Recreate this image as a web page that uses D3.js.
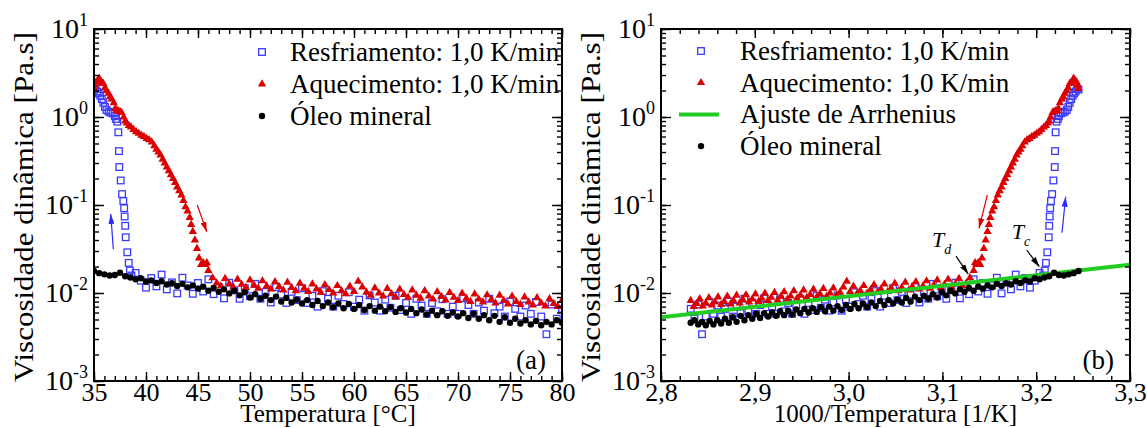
<!DOCTYPE html>
<html>
<head>
<meta charset="utf-8">
<script src="https://cdn.jsdelivr.net/npm/d3@7"></script>
<style>
body { margin: 0; background: #fff; }
</style>
</head>
<body>
<div id="chart"></div>
<script>
// Resfriamento (cooling) 1,0 K/min : temperature [°C] and viscosity [Pa.s]
var tempCool = [35.0, 35.15, 35.3, 35.45, 35.6, 35.75, 35.9, 36.05, 36.2, 36.4, 36.6, 36.8, 37.0, 37.12,
    37.24, 37.34, 37.4, 37.43, 37.57, 37.7, 37.82, 37.9, 37.95, 38.0, 38.05, 38.2, 38.34, 38.46, 38.6,
    39.0, 39.5, 40.0, 40.5, 41.0, 41.5, 42.0, 42.5, 43.0, 43.5, 44.0, 44.5, 45.0, 45.5, 46.0, 46.5,
    47.0, 47.5, 48.0, 48.5, 49.0, 49.5, 50.0, 50.5, 51.0, 51.5, 52.0, 52.5, 53.0, 53.5, 54.0, 54.5,
    55.0, 55.5, 56.0, 56.5, 57.0, 57.5, 58.0, 58.5, 59.0, 59.5, 60.0, 60.5, 61.0, 61.5, 62.0, 62.5,
    63.0, 63.5, 64.0, 64.5, 65.0, 65.5, 66.0, 66.5, 67.0, 67.5, 68.0, 68.5, 69.0, 69.5, 70.0, 70.5,
    71.0, 71.5, 72.0, 72.5, 73.0, 73.5, 74.0, 74.5, 75.0, 75.5, 76.0, 76.5, 77.0, 77.5, 78.0, 78.5,
    79.0, 79.5, 80.0];
var viscCool = [2.05, 2.1, 1.95, 1.85, 1.75, 1.6, 1.45, 1.3, 1.2, 1.15, 1.12, 1.1, 1.02, 0.95,
    0.885, 0.67, 0.41, 0.27, 0.19, 0.133, 0.111, 0.092, 0.074, 0.058, 0.043, 0.029, 0.022, 0.018, 0.0158,
    0.0169, 0.0138, 0.0115, 0.0148, 0.0119, 0.0162, 0.0110, 0.0132, 0.0099, 0.0149, 0.0122, 0.0098, 0.0130, 0.0104, 0.0143, 0.0097,
    0.0116, 0.0087, 0.0131, 0.0107, 0.0086, 0.0114, 0.0092, 0.0127, 0.0086, 0.0103, 0.0078, 0.0117, 0.0096, 0.0077, 0.0103, 0.0083,
    0.0113, 0.0077, 0.0093, 0.0070, 0.0105, 0.0086, 0.0070, 0.0093, 0.0075, 0.0102, 0.0070, 0.0084, 0.0063, 0.0094, 0.0078, 0.0063,
    0.0084, 0.0068, 0.0093, 0.0064, 0.0077, 0.0058, 0.0086, 0.0072, 0.0058, 0.0077, 0.0062, 0.0085, 0.0058, 0.0070, 0.0058, 0.0087,
    0.0073, 0.0058, 0.0078, 0.0063, 0.0086, 0.0059, 0.0070, 0.0054, 0.0080, 0.0066, 0.0054, 0.0072, 0.0058, 0.0079, 0.0054, 0.0034,
    0.0074, 0.0051, 0.0066];

// Aquecimento (heating) 1,0 K/min
var tempHeat = [35.0, 35.1, 35.2, 35.35, 35.5, 35.6, 35.75, 35.9, 36.05, 36.2, 36.4, 36.55, 36.7, 36.9,
    37.05, 37.2, 37.35, 37.5, 37.65, 37.85, 38.0, 38.15, 38.35, 38.55, 38.8, 39.05, 39.3, 39.55, 39.8,
    40.05, 40.3, 40.55, 40.8, 41.0, 41.2, 41.4, 41.6, 41.8, 42.0, 42.2, 42.4, 42.6, 42.8, 43.0, 43.2,
    43.4, 43.6, 43.8, 44.0, 44.2, 44.35, 44.5, 44.7, 44.9, 45.1, 45.3, 45.5, 45.7, 45.85, 46.0,
    46.4, 46.8, 47.2, 47.6, 48.0, 48.4, 48.8, 49.2, 49.6, 50.0, 50.4, 50.8, 51.2, 51.6, 52.0, 52.4,
    52.8, 53.2, 53.6, 54.0, 54.4, 54.8, 55.2, 55.6, 56.0, 56.4, 56.8, 57.2, 57.6, 58.0, 58.4, 58.8,
    59.2, 59.6, 60.0, 60.4, 60.8, 61.2, 61.6, 62.0, 62.4, 62.8, 63.2, 63.6, 64.0, 64.4, 64.8, 65.2,
    65.6, 66.0, 66.4, 66.8, 67.2, 67.6, 68.0, 68.4, 68.8, 69.2, 69.6, 70.0, 70.4, 70.8, 71.2, 71.6,
    72.0, 72.4, 72.8, 73.2, 73.6, 74.0, 74.4, 74.8, 75.2, 75.6, 76.0, 76.4, 76.8, 77.2, 77.6, 78.0,
    78.4, 78.8, 79.2, 79.6, 80.0];
var viscHeat = [2.1, 2.3, 2.5, 2.6, 2.75, 2.6, 2.45, 2.4, 2.15, 2.0, 1.86, 1.7, 1.6, 1.45,
    1.25, 1.18, 1.17, 1.15, 1.12, 1.0, 0.9, 0.85, 0.8, 0.77, 0.72, 0.68, 0.65, 0.62, 0.6,
    0.57, 0.55, 0.52, 0.47, 0.43, 0.40, 0.37, 0.33, 0.30, 0.27, 0.245, 0.22, 0.20, 0.18, 0.16, 0.145,
    0.13, 0.112, 0.095, 0.085, 0.072, 0.06, 0.05, 0.04, 0.032, 0.025, 0.021, 0.022, 0.021, 0.022, 0.018,
    0.0149, 0.0130, 0.0120, 0.0146, 0.0127, 0.0117, 0.0143, 0.0125, 0.0115, 0.0140, 0.0122, 0.0113, 0.0137, 0.0120, 0.0111, 0.0134,
    0.0118, 0.0108, 0.0132, 0.0115, 0.0106, 0.0129, 0.0113, 0.0104, 0.0126, 0.0111, 0.0102, 0.0124, 0.0109, 0.0100, 0.0121, 0.0106,
    0.0098, 0.0119, 0.0104, 0.0136, 0.0117, 0.0102, 0.0094, 0.0114, 0.0100, 0.0092, 0.0112, 0.0098, 0.0090, 0.0110, 0.0096, 0.0089,
    0.0108, 0.0094, 0.0087, 0.0106, 0.0092, 0.0085, 0.0103, 0.0091, 0.0083, 0.0101, 0.0089, 0.0082, 0.0099, 0.0087, 0.0080, 0.0097,
    0.0085, 0.0079, 0.0095, 0.0084, 0.0077, 0.0094, 0.0082, 0.0075, 0.0092, 0.0080, 0.0074, 0.0090, 0.0079, 0.0073, 0.0088, 0.0077,
    0.0071, 0.0086, 0.0076, 0.0070, 0.0082];

// Óleo mineral
var tempOil = [35.0, 35.5, 36.0, 36.5, 37.0, 37.5, 38.0, 38.5, 39.0, 39.5, 40.0, 40.5, 41.0, 41.5, 42.0, 42.5,
    43.0, 43.5, 44.0, 44.5, 45.0, 45.5, 46.0, 46.5, 47.0, 47.5, 48.0, 48.5, 49.0, 49.5, 50.0, 50.5,
    51.0, 51.5, 52.0, 52.5, 53.0, 53.5, 54.0, 54.5, 55.0, 55.5, 56.0, 56.5, 57.0, 57.5, 58.0, 58.5,
    59.0, 59.5, 60.0, 60.5, 61.0, 61.5, 62.0, 62.5, 63.0, 63.5, 64.0, 64.5, 65.0, 65.5, 66.0, 66.5,
    67.0, 67.5, 68.0, 68.5, 69.0, 69.5, 70.0, 70.5, 71.0, 71.5, 72.0, 72.5, 73.0, 73.5, 74.0, 74.5,
    75.0, 75.5, 76.0, 76.5, 77.0, 77.5, 78.0, 78.5, 79.0, 79.5, 80.0];
var viscOil = [0.0178, 0.0168, 0.0163, 0.0158, 0.0160, 0.0170, 0.0155, 0.0150, 0.0143, 0.0147, 0.0135, 0.0139, 0.0130, 0.0136, 0.0125, 0.0129,
    0.0120, 0.0127, 0.0116, 0.0122, 0.0112, 0.0118, 0.0106, 0.0114, 0.0103, 0.0110, 0.0099, 0.0106, 0.0094, 0.0102, 0.0089, 0.0097,
    0.0086, 0.0093, 0.0083, 0.0091, 0.0080, 0.0088, 0.0078, 0.0084, 0.0076, 0.0083, 0.0073, 0.0081, 0.0071, 0.0078, 0.0069, 0.0076,
    0.0067, 0.0075, 0.0066, 0.0073, 0.0064, 0.0071, 0.0063, 0.0070, 0.0062, 0.0069, 0.0061, 0.0067, 0.0060, 0.0066, 0.0059, 0.0065,
    0.0057, 0.0063, 0.0056, 0.0062, 0.0055, 0.0060, 0.0054, 0.0059, 0.0052, 0.0058, 0.0051, 0.0056, 0.0049, 0.0055, 0.0047, 0.0053,
    0.0046, 0.0051, 0.0045, 0.0049, 0.0044, 0.0048, 0.0043, 0.0047, 0.0044, 0.0049, 0.0046];

// Ajuste de Arrhenius (straight line in 1000/T)
var arrheniusX = [2.8, 3.3];
var arrheniusVisc = [0.0053, 0.0209];

// tick labels
var tempTicks = [35, 40, 45, 50, 55, 60, 65, 70, 75, 80];
var invTicks = [2.8, 2.9, 3.0, 3.1, 3.2, 3.3];
var viscDecades = [-3, -2, -1, 0, 1];

var FONT = '"Liberation Serif", "Times New Roman", Times, serif';
var W = 1147, H = 428, TOP = 29, BOTTOM = 381;
var svg = d3.select('#chart').append('svg').attr('width', W).attr('height', H)
    .attr('font-family', FONT);

var defs = svg.append('defs');
function arrowMarker(id, color) {
    defs.append('marker').attr('id', id)
        .attr('viewBox', '0 0 10 6').attr('refX', 10).attr('refY', 3)
        .attr('markerWidth', 10).attr('markerHeight', 6)
        .attr('markerUnits', 'userSpaceOnUse').attr('orient', 'auto')
        .append('path').attr('d', 'M0,0L10,3L0,6Z').attr('fill', color);
}
arrowMarker('arBlue', '#2a2aff');
arrowMarker('arRed', '#e00000');
arrowMarker('arBlack', '#000');

function points(ts, vs) {
    return ts.map(function(t, i) { return {t: t, v: vs[i]}; });
}
var coolPts = points(tempCool, viscCool);
var heatPts = points(tempHeat, viscHeat);
var oilPts = points(tempOil, viscOil);

function label(sel, size) {
    return sel.append('text').attr('font-family', FONT).attr('font-size', size).attr('fill', '#000');
}

function drawPanel(cfg) {
    var x = d3.scaleLinear().domain(cfg.domain).range([cfg.x0, cfg.x1]);
    var y = d3.scaleLog().domain([1e-3, 10]).range([BOTTOM, TOP]);
    var g = svg.append('g');
    var px = function(d) { return x(cfg.conv(d.t)); };
    var py = function(d) { return y(d.v); };

    g.append('clipPath').attr('id', cfg.id + 'clip')
        .append('rect').attr('x', cfg.x0).attr('y', TOP)
        .attr('width', cfg.x1 - cfg.x0).attr('height', BOTTOM - TOP);
    var plot = g.append('g').attr('clip-path', 'url(#' + cfg.id + 'clip)');

    plot.append('g').selectAll('rect').data(coolPts).enter().append('rect')
        .attr('x', function(d) { return px(d) - 3.3; })
        .attr('y', function(d) { return py(d) - 3.3; })
        .attr('width', 6.6).attr('height', 6.6)
        .attr('fill', 'none').attr('stroke', '#3b3bff').attr('stroke-width', 1.3);

    var tri = d3.symbol().type(d3.symbolTriangle).size(30);
    plot.append('g').selectAll('path').data(heatPts).enter().append('path')
        .attr('d', tri)
        .attr('transform', function(d) { return 'translate(' + px(d) + ',' + py(d) + ')'; })
        .attr('fill', '#dd0000');

    if (cfg.fit) {
        plot.append('line')
            .attr('x1', x(arrheniusX[0])).attr('y1', y(arrheniusVisc[0]))
            .attr('x2', x(arrheniusX[1])).attr('y2', y(arrheniusVisc[1]))
            .attr('stroke', '#22cc22').attr('stroke-width', 4);
    }

    plot.append('g').selectAll('circle').data(oilPts).enter().append('circle')
        .attr('cx', px).attr('cy', py).attr('r', 3.2).attr('fill', '#000');

    // ticks on the four sides, pointing inwards
    function clean(sel) {
        sel.select('.domain').remove();
        sel.selectAll('line').attr('stroke', '#000').attr('stroke-width', 1.4);
        sel.attr('font-family', FONT).attr('font-size', 26);
        sel.selectAll('text').attr('fill', '#000');
    }
    g.append('g').attr('transform', 'translate(0,' + BOTTOM + ')')
        .call(d3.axisBottom(x).tickValues(cfg.major).tickSize(-9).tickPadding(2).tickFormat(cfg.fmt))
        .call(clean);
    g.append('g').attr('transform', 'translate(0,' + BOTTOM + ')')
        .call(d3.axisBottom(x).ticks(cfg.minor).tickSize(-5).tickFormat('')).call(clean);
    g.append('g').attr('transform', 'translate(0,' + TOP + ')')
        .call(d3.axisTop(x).tickValues(cfg.major).tickSize(-9).tickFormat('')).call(clean);
    g.append('g').attr('transform', 'translate(0,' + TOP + ')')
        .call(d3.axisTop(x).ticks(cfg.minor).tickSize(-5).tickFormat('')).call(clean);

    var majorV = viscDecades.map(function(p) { return Math.pow(10, p); });
    [[d3.axisLeft, cfg.x0], [d3.axisRight, cfg.x1]].forEach(function(a) {
        g.append('g').attr('transform', 'translate(' + a[1] + ',0)')
            .call(a[0](y).tickValues(majorV).tickSize(-10).tickFormat('')).call(clean);
        g.append('g').attr('transform', 'translate(' + a[1] + ',0)')
            .call(a[0](y).tickValues(y.ticks()).tickSize(-5).tickFormat('')).call(clean);
    });

    g.append('rect').attr('x', cfg.x0).attr('y', TOP)
        .attr('width', cfg.x1 - cfg.x0).attr('height', BOTTOM - TOP)
        .attr('fill', 'none').attr('stroke', '#000').attr('stroke-width', 2);

    // y tick labels 10^n
    viscDecades.forEach(function(p) {
        var t = label(g, 28).attr('x', cfg.x0 - 6).attr('y', y(Math.pow(10, p)) + 9)
            .attr('text-anchor', 'end');
        t.append('tspan').text('10');
        t.append('tspan').attr('dy', -12).attr('font-size', 18).text(p < 0 ? '-' + (-p) : String(p));
    });

    label(g, 27)
        .attr('transform', 'translate(' + cfg.ytitleX + ',' + ((TOP + BOTTOM) / 2 + 2) + ') rotate(-90)')
        .attr('text-anchor', 'middle')
        .attr('textLength', 350).attr('lengthAdjust', 'spacingAndGlyphs')
        .text('Viscosidade dinâmica [Pa.s]');
    label(g, 25).attr('x', (cfg.x0 + cfg.x1) / 2).attr('y', 422)
        .attr('text-anchor', 'middle').text(cfg.xtitle);
    label(g, 27).attr('x', cfg.x1 - 16).attr('y', 369)
        .attr('text-anchor', 'end').text(cfg.tag);

    // legend
    var lg = g.append('g');
    cfg.legend.forEach(function(item, i) {
        var yy = cfg.legendY + i * cfg.legendStep;
        var mx = cfg.legendMarkX;
        if (item.kind === 'square') {
            lg.append('rect').attr('x', mx - 3.3).attr('y', yy - 3.3).attr('width', 6.6).attr('height', 6.6)
                .attr('fill', 'none').attr('stroke', '#3b3bff').attr('stroke-width', 1.3);
        } else if (item.kind === 'tri') {
            lg.append('path').attr('d', tri).attr('transform', 'translate(' + mx + ',' + yy + ')').attr('fill', '#dd0000');
        } else if (item.kind === 'line') {
            lg.append('line').attr('x1', mx - 22).attr('x2', mx + 18).attr('y1', yy).attr('y2', yy)
                .attr('stroke', '#22cc22').attr('stroke-width', 4);
        } else {
            lg.append('circle').attr('cx', mx).attr('cy', yy).attr('r', 3.2).attr('fill', '#000');
        }
        label(lg, 27).attr('x', cfg.legendTextX).attr('y', yy + 9).text(item.label);
    });

    // arrows, given in data coordinates
    cfg.arrows.forEach(function(a) {
        g.append('line')
            .attr('x1', x(a.from[0])).attr('y1', y(a.from[1]))
            .attr('x2', x(a.to[0])).attr('y2', y(a.to[1]))
            .attr('stroke', a.color).attr('stroke-width', 1.2)
            .attr('marker-end', 'url(#' + a.marker + ')');
    });
    (cfg.notes || []).forEach(function(n) {
        var t = label(g, 22).attr('x', x(n.at[0])).attr('y', y(n.at[1]))
            .attr('font-style', 'italic');
        t.append('tspan').text('T');
        t.append('tspan').attr('dy', 7).attr('font-size', 14).text(n.sub);
    });
}

var commaFmt = function(d) { return d3.format('.1f')(d).replace('.', ','); };

drawPanel({
    id: 'a', x0: 94, x1: 562, domain: [35, 80], major: tempTicks, minor: 45,
    conv: function(t) { return t; }, fmt: d3.format('d'),
    ytitleX: 33, xtitle: 'Temperatura [°C]', tag: '(a)', fit: false,
    legendY: 52, legendStep: 32, legendMarkX: 262, legendTextX: 290,
    legend: [
        {kind: 'square', label: 'Resfriamento: 1,0 K/min'},
        {kind: 'tri', label: 'Aquecimento: 1,0 K/min'},
        {kind: 'dot', label: 'Óleo mineral'}
    ],
    arrows: [
        {from: [36.86, 0.0314], to: [36.61, 0.079], color: '#2a2aff', marker: 'arBlue'},
        {from: [44.93, 0.1], to: [45.84, 0.0497], color: '#e00000', marker: 'arRed'}
    ]
});

drawPanel({
    id: 'b', x0: 661, x1: 1130, domain: [2.8, 3.3], major: invTicks, minor: 25,
    conv: function(t) { return 1000 / (t + 273.15); }, fmt: commaFmt,
    ytitleX: 600, xtitle: '1000/Temperatura [1/K]', tag: '(b)', fit: true,
    legendY: 51, legendStep: 31.7, legendMarkX: 701, legendTextX: 740,
    legend: [
        {kind: 'square', label: 'Resfriamento: 1,0 K/min'},
        {kind: 'tri', label: 'Aquecimento: 1,0 K/min'},
        {kind: 'line', label: 'Ajuste de Arrhenius'},
        {kind: 'dot', label: 'Óleo mineral'}
    ],
    arrows: [
        {from: [3.1479, 0.13], to: [3.139, 0.0543], color: '#e00000', marker: 'arRed'},
        {from: [3.2275, 0.0484], to: [3.2314, 0.124], color: '#2a2aff', marker: 'arBlue'},
        {from: [3.1145, 0.0263], to: [3.1276, 0.0164], color: '#000', marker: 'arBlack'},
        {from: [3.1899, 0.0308], to: [3.2033, 0.0199], color: '#000', marker: 'arBlack'}
    ],
    notes: [
        {at: [3.0889, 0.0334], sub: 'd'},
        {at: [3.174, 0.041], sub: 'c'}
    ]
});
</script>
</body>
</html>
